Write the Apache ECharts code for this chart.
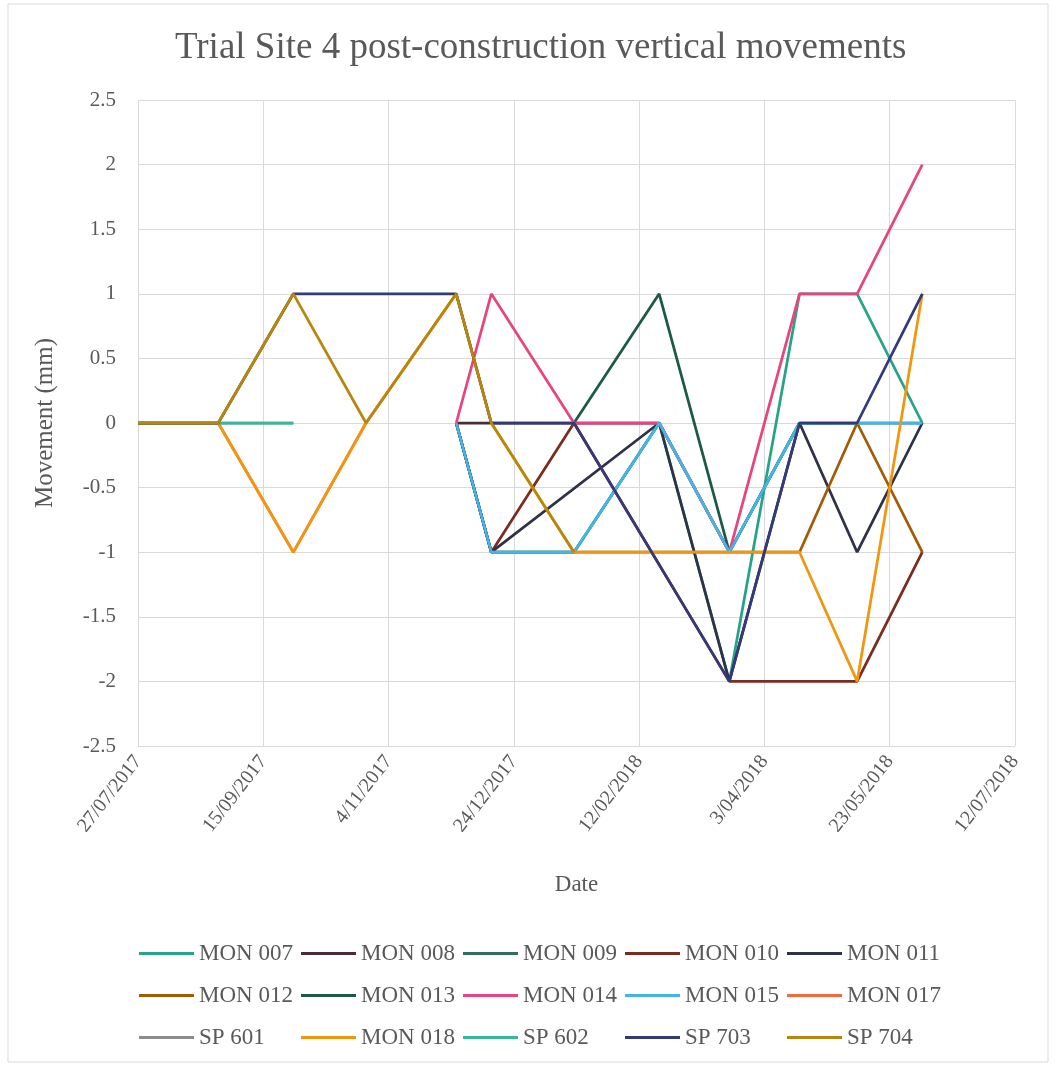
<!DOCTYPE html>
<html>
<head>
<meta charset="utf-8">
<script src="https://cdn.jsdelivr.net/npm/echarts@6/dist/echarts.min.js"></script>
<style>
html,body{margin:0;padding:0;background:#fff;}
#chart{width:1057px;height:1067px;}
</style>
</head>
<body>
<div id="chart"></div>
<script>
// ---- data ----
const DATES = ['2017-07-27','2017-08-28','2017-09-27','2017-10-26','2017-12-01','2017-12-15',
               '2018-01-17','2018-02-20','2018-03-20','2018-04-17','2018-05-10','2018-06-05'];
const SERIES_NAMES = ['MON 007','MON 008','MON 009','MON 010','MON 011','MON 012','MON 013',
                      'MON 014','MON 015','MON 017','SP 601','MON 018','SP 602','SP 703','SP 704'];
const MON_007 = [null,null,null,null,0,-1,-1,0,-2,1,1,0];
const MON_008 = [null,null,null,null,0,0,0,0,-1,null,null,null];
const MON_009 = [null,null,null,null,0,-1,-1,0,-1,0,0,0];
const MON_010 = [null,null,null,null,0,-1,0,null,-2,-2,-2,-1];
const MON_011 = [null,null,null,null,0,-1,null,0,-2,0,-1,0];
const MON_012 = [null,null,null,null,null,null,-1,-1,-1,-1,0,-1];
const MON_013 = [null,null,null,null,null,null,0,1,-1,0,null,null];
const MON_014 = [null,null,null,null,0,1,0,0,-1,1,1,2];
const MON_015 = [null,null,null,null,0,-1,-1,0,-1,0,0,0];
const MON_017 = [0,0,-1,0,1,null,null,null,null,null,null,null];
const SP_601  = [0,0,0,null,null,null,null,null,null,null,null,null];
const MON_018 = [0,0,-1,0,1,0,-1,-1,-1,-1,-2,1];
const SP_602  = [0,0,0,null,null,null,null,null,null,null,null,null];
const SP_703  = [0,0,1,1,1,0,0,null,-2,0,0,1];
const SP_704  = [0,0,1,0,1,0,-1,null,null,null,null,null];
const VALUES = [MON_007,MON_008,MON_009,MON_010,MON_011,MON_012,MON_013,MON_014,MON_015,
                MON_017,SP_601,MON_018,SP_602,SP_703,SP_704];
const COLORS = ['#27a386','#4b2b3a','#2f6f62','#7a2c1e','#2e3148','#a15c06','#1d5a45',
                '#e6457f','#45b5e6','#f2683f','#8c8c8c','#f0960f','#35b99a','#34397a','#b8860b'];
const X_START = '2017-07-27';   // axis origin
const X_DAYS_MAX = 350;         // 12/07/2018
const X_STEP = 50;              // days between ticks
const Y_MIN = -2.5, Y_MAX = 2.5, Y_STEP = 0.5;
const LEGEND_COLUMNS = [
  ['MON 007','MON 012','SP 601'],
  ['MON 008','MON 013','MON 018'],
  ['MON 009','MON 014','SP 602'],
  ['MON 010','MON 015','SP 703'],
  ['MON 011','MON 017','SP 704']
];

// ---- helpers ----
function utc(s){const p=s.split('-').map(Number);return Date.UTC(p[0],p[1]-1,p[2]);}
const DAY = 86400000;
const BASE = utc(X_START);
function dayOf(s){return Math.round((utc(s)-BASE)/DAY);}
function fmtDay(d){
  const t = new Date(BASE + d*DAY);
  const mm = String(t.getUTCMonth()+1).padStart(2,'0');
  return t.getUTCDate() + '/' + mm + '/' + t.getUTCFullYear();
}

const FONT = '"Liberation Serif","Times New Roman",serif';
const TXT = '#595959';

const series = SERIES_NAMES.map((name,i)=>({
  name: name,
  type: 'line',
  symbol: 'none',
  color: COLORS[i],
  itemStyle: {color: COLORS[i]},
  lineStyle: {width: 2.75, color: COLORS[i]},
  data: VALUES[i].map((v,j)=> v===null ? null : [dayOf(DATES[j]), v]).filter(p=>p!==null),
  animation: false
}));

const legends = LEGEND_COLUMNS.map((names,k)=>({
  orient: 'vertical',
  left: 134 + k*162,
  top: 936,
  itemGap: 17,
  itemWidth: 55,
  itemHeight: 3,
  icon: 'rect',
  data: names,
  textStyle: {fontFamily: FONT, fontSize: 23, color: TXT, lineHeight: 25}
}));

const chart = echarts.init(document.getElementById('chart'), null, {renderer:'canvas'});
chart.setOption({
  backgroundColor: '#fff',
  animation: false,
  title: {
    text: 'Trial Site 4 post-construction vertical movements',
    left: 170,
    top: 25,
    textStyle: {fontFamily: FONT, fontSize: 37, fontWeight: 'normal', color: TXT}
  },
  graphic: [{
    type: 'rect', silent: true,
    shape: {x: 8, y: 4, width: 1040, height: 1058},
    style: {fill: 'none', stroke: '#d9d9d9', lineWidth: 1}
  }],
  legend: legends,
  grid: {left: 138, right: 42, top: 100, bottom: 321, containLabel: false},
  xAxis: {
    type: 'value',
    min: 0, max: X_DAYS_MAX, interval: X_STEP,
    name: 'Date', nameLocation: 'middle', nameGap: 127,
    nameTextStyle: {fontFamily: FONT, fontSize: 23, color: TXT},
    axisLine: {show: false},
    axisTick: {show: false},
    axisLabel: {formatter: fmtDay, rotate: 52, margin: 12,
                fontFamily: FONT, fontSize: 20, color: TXT},
    splitLine: {show: true, lineStyle: {color: '#d9d9d9', width: 1}}
  },
  yAxis: {
    type: 'value',
    min: Y_MIN, max: Y_MAX, interval: Y_STEP,
    name: 'Movement (mm)', nameLocation: 'middle', nameGap: 80, nameRotate: 90,
    nameTextStyle: {fontFamily: FONT, fontSize: 25, color: TXT},
    axisLine: {show: false},
    axisTick: {show: false},
    axisLabel: {margin: 22, fontFamily: FONT, fontSize: 21, color: TXT},
    splitLine: {show: true, lineStyle: {color: '#d9d9d9', width: 1}}
  },
  series: series
});
</script>
</body>
</html>
